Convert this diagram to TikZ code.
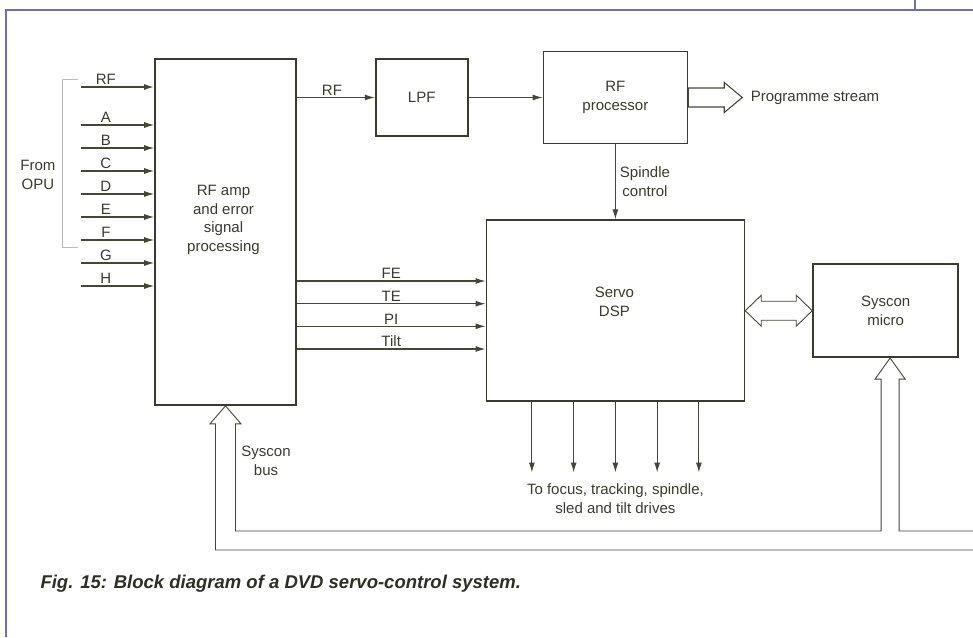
\documentclass[tikz,border=0pt]{standalone}
\usepackage{fontspec}
\setmainfont{Liberation Sans}
\usetikzlibrary{arrows.meta, positioning}

\definecolor{ink}{RGB}{58,58,48}
\definecolor{wire}{RGB}{68,70,56}
\definecolor{framecol}{RGB}{108,112,178}

\begin{document}
\begin{tikzpicture}[x=1pt, y=-1pt,
    every node/.style={align=center, text=ink, font=\fontsize{15}{18.5}\selectfont},
    block/.style={rectangle, draw=ink, line width=1.7pt, fill=white, inner sep=0pt},
    sig/.style={draw=wire, line width=1.1pt, -{Latex[length=10pt,width=6pt]}},
    bus/.style={draw=wire, line width=0.9pt, line join=miter},
    lbl/.style={inner sep=1.5pt}]
    \useasboundingbox (0,0) rectangle (973,637);
    \draw[framecol, line width=1.4pt] (6,637) -- (6,10) -- (973,10);
    \draw[framecol, line width=1.2pt] (915,0) -- (915,10);

    \node[block, minimum width=141pt, minimum height=346pt] (rfamp) at (225.5,232) {};
    \node (rfamptxt) at ([shift={(-2,-12)}]rfamp.center) {RF amp\\ and error\\ signal\\ processing};
    \node[block, minimum width=92pt, minimum height=77pt, right=78pt of rfamp.north east, anchor=north west] (lpf) {LPF};
    \node[block, minimum width=144pt, minimum height=92pt, right=74pt of lpf] (rfproc) {RF\\ processor};
    \node[block, minimum width=258pt, minimum height=181pt, below=75pt of rfproc] (servo) {};
    \node (servotxt) at ([shift={(-1,-9)}]servo.center) {Servo\\ DSP};
    \node[block, minimum width=145pt, minimum height=93pt, right=67pt of servo] (syscon) {Syscon\\ micro};

    \draw[gray!55, line width=0.7pt] (78,79) -| (62,247) -- (78,247);
    \node[anchor=east] (opu) at (59,175) {From\\ OPU};
    \coordinate (inRF) at (81,87);
    \draw[sig, line width=1.6pt] (inRF) -- node[lbl, above, pos=.34] {RF} (rfamp.west |- inRF);
    \foreach \name/\y in {A/125, B/148, C/171, D/194, E/217, F/240, G/263, H/286} {
        \coordinate (in\name) at (81,\y);
        \draw[sig] (in\name) -- node[lbl, above, pos=.34] {\name} (rfamp.west |- in\name);
    }

    \draw[sig] (rfamp.east |- lpf) -- node[lbl, above, pos=.45] {RF} (lpf);
    \draw[sig] (lpf) -- (rfproc);
    \draw[sig] (rfproc) -- node[right, inner sep=4pt] {Spindle\\ control} (servo);
    \draw[bus, line width=1.1pt, fill=white] (rfproc.east) ++(0,-9.5) -- ++(36,0) -- ++(0,-5.5)
        -- ++(18,15) coordinate (stream) -- ++(-18,15) -- ++(0,-5.5) -- ++(-36,0) -- cycle;
    \node[right=5pt of stream] (prog) {Programme stream};

    \foreach \name/\y in {FE/281, TE/303.7, PI/326.3, Tilt/349} {
        \coordinate (lvl\name) at (0,\y);
        \draw[sig] (rfamp.east |- lvl\name) -- node[lbl, above] {\name} (servo.west |- lvl\name);
    }

    \foreach \i in {-2,...,2} {
        \draw[sig] ([xshift=\i*41.75pt]servo.south) -- ++(0,70.5) coordinate (drv\i);
    }
    \node[anchor=north] (drives) at ([shift={(0,8)}]drv0) {To focus, tracking, spindle,\\ sled and tilt drives};

    \draw[bus, fill=white] (servo.east) -- ++(16,-15.5) -- ++(0,6) -- ++(35,0) -- ++(0,-6)
        -- (syscon.west) -- ++(-16,15.5) -- ++(0,-6) -- ++(-35,0) -- ++(0,6) -- cycle;

    \coordinate (busR) at ([xshift=4.5pt]syscon.south);
    \coordinate (busRa) at ([shift={(-9,21)}]busR);
    \coordinate (rail) at (0,531);
    \draw[bus] (rfamp.south) -- ++(-15.5,18) -- ++(5.5,0) |- (973,550);
    \draw[bus] (rfamp.south) -- ++(15.5,18) -- ++(-5.5,0) |- (busRa |- rail) -- (busRa)
        -- ++(-6,0) -- (busR) -- ++(15,21) -- ++(-6,0) |- (973,531);
    \node (buslbl) at (266,461) {Syscon\\ bus};

    \node[anchor=west, text=ink!80!black, font=\fontsize{18.5}{21}\selectfont\bfseries\itshape] (caption) at (37,584)
        {Fig. 15: Block diagram of a DVD servo-control system.};
\end{tikzpicture}
\end{document}
